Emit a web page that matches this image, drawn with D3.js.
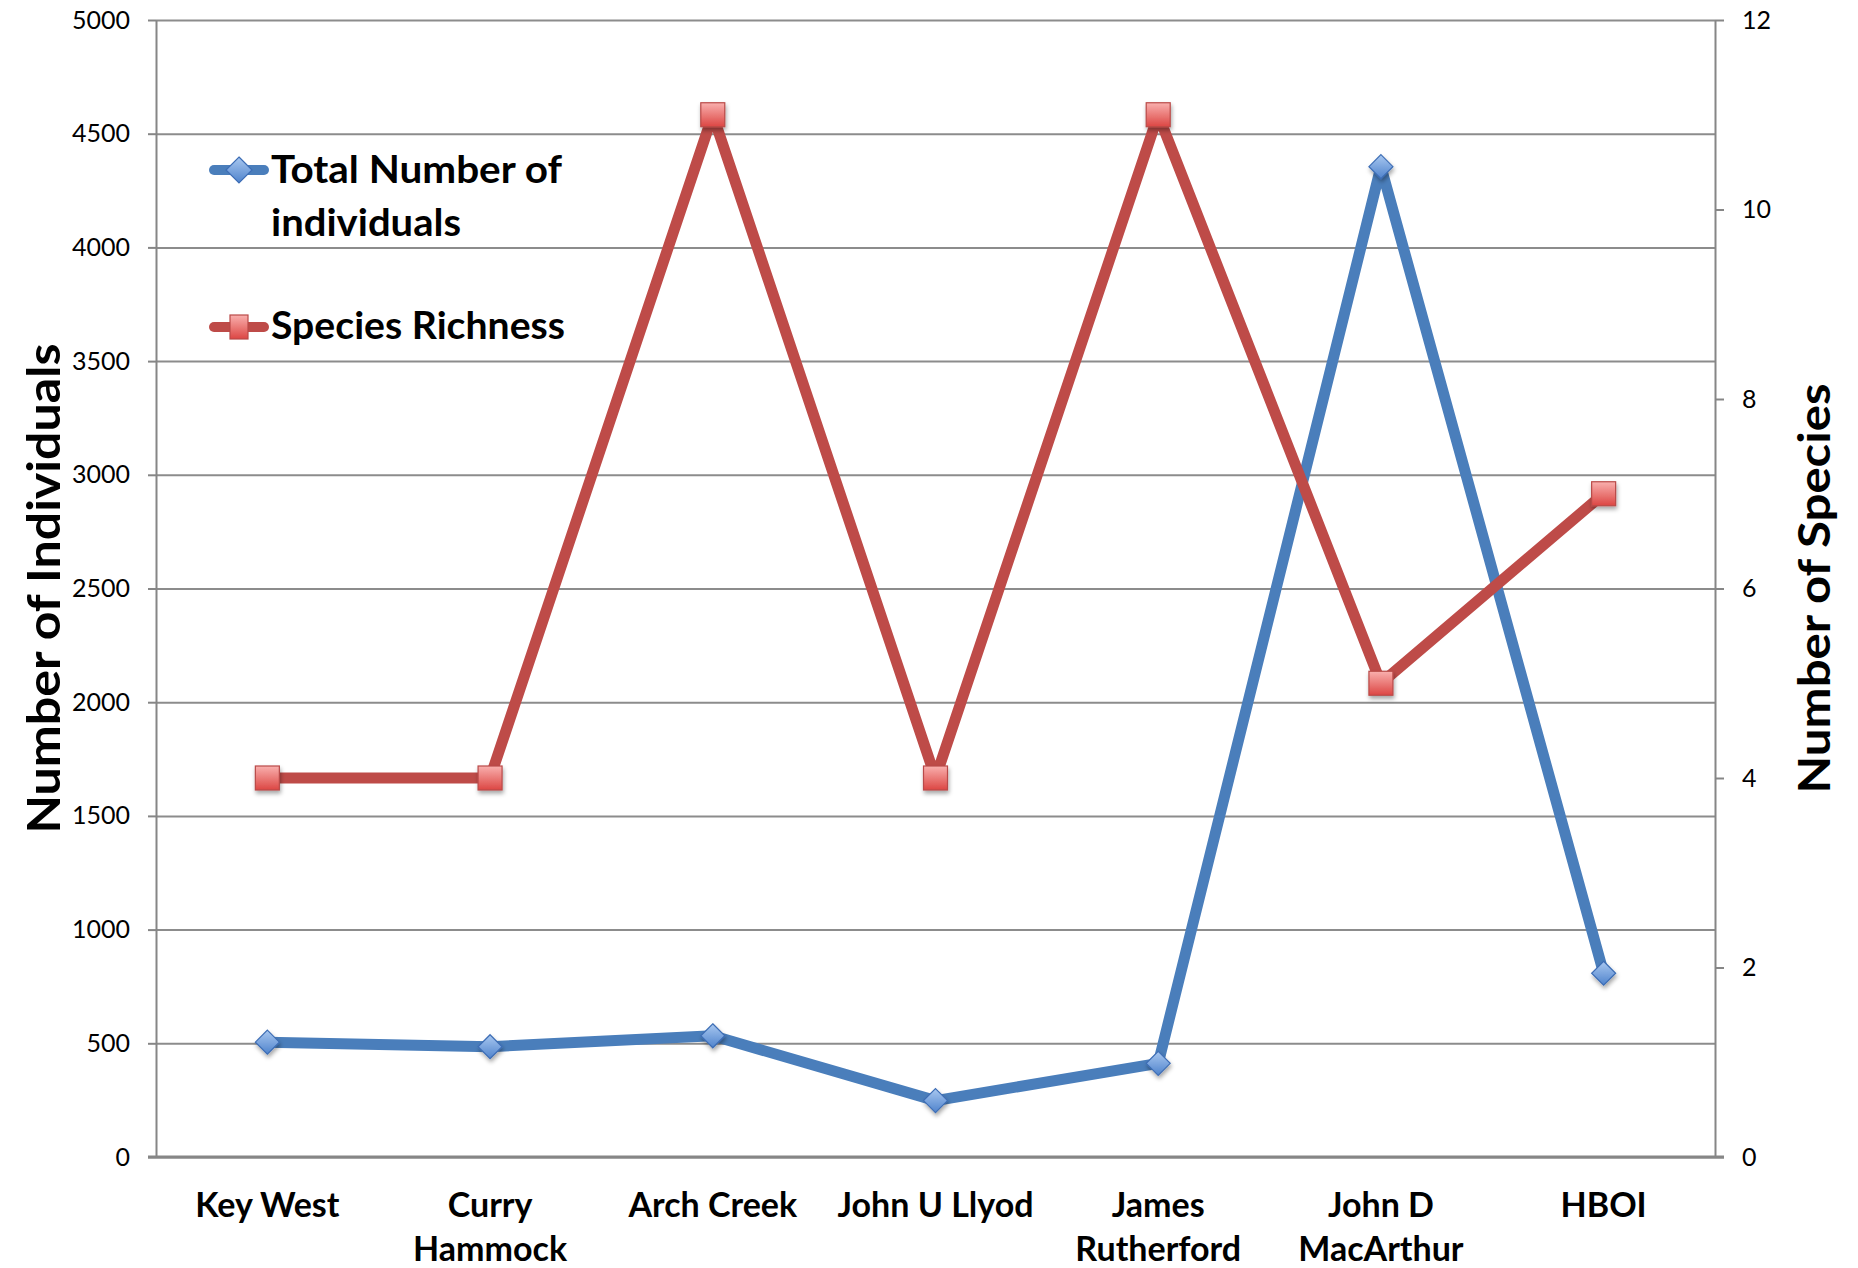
<!doctype html>
<html>
<head>
    <meta charset="utf-8">
    <title>Individuals and species richness by site</title>
    <script src="https://d3js.org/d3.v7.min.js"></script>
    <style>
        body { margin: 0; background: #fff; }
        svg text { font-family: Lato, "Open Sans", sans-serif; fill: #000; }
        .tick line { stroke: #868686; stroke-width: 2; }
        .domain { stroke: #868686; stroke-width: 2; }
        .grid line { stroke: #8c8c8c; stroke-width: 2; }
        .grid .domain { display: none; }
    </style>
</head>
<body>
<script>
// data
const sites = ["Key West", "Curry Hammock", "Arch Creek", "John U Llyod", "James Rutherford", "John D MacArthur", "HBOI"];
const siteLines = [["Key West"], ["Curry", "Hammock"], ["Arch Creek"], ["John U Llyod"], ["James", "Rutherford"], ["John D", "MacArthur"], ["HBOI"]];
const totalIndividuals = [505, 485, 533, 248, 412, 4355, 808];
const speciesRichness = [4, 4, 11, 4, 11, 5, 7];
const leftTicks = [0, 500, 1000, 1500, 2000, 2500, 3000, 3500, 4000, 4500, 5000];
const rightTicks = [0, 2, 4, 6, 8, 10, 12];

const w = 1858, h = 1268;
const plotLeft = 156, plotRight = 1715, plotTop = 20, plotBottom = 1157;

const svg = d3.select("body").append("svg")
    .attr("width", w)
    .attr("height", h);

const defs = svg.append("defs");
const blueGrad = defs.append("linearGradient").attr("id", "blueGrad").attr("x1", 0).attr("y1", 0).attr("x2", 0).attr("y2", 1);
blueGrad.append("stop").attr("offset", "0%").attr("stop-color", "#a9c8f0");
blueGrad.append("stop").attr("offset", "100%").attr("stop-color", "#4f83cc");
const redGrad = defs.append("linearGradient").attr("id", "redGrad").attr("x1", 0).attr("y1", 0).attr("x2", 0).attr("y2", 1);
redGrad.append("stop").attr("offset", "0%").attr("stop-color", "#f9b0ae");
redGrad.append("stop").attr("offset", "100%").attr("stop-color", "#dc4643");
const shadow = defs.append("filter").attr("id", "shadow").attr("x", "-50%").attr("y", "-50%").attr("width", "200%").attr("height", "200%");
shadow.append("feDropShadow").attr("dx", 1).attr("dy", 3).attr("stdDeviation", 2).attr("flood-color", "#000").attr("flood-opacity", 0.35);

const x = d3.scalePoint().domain(sites).range([plotLeft, plotRight]).padding(0.5);
const yLeft = d3.scaleLinear().domain([0, 5000]).range([plotBottom, plotTop]);
const yRight = d3.scaleLinear().domain([0, 12]).range([plotBottom, plotTop]);

// horizontal gridlines
svg.append("g")
    .attr("class", "grid")
    .attr("transform", "translate(" + plotLeft + ",0)")
    .call(d3.axisLeft(yLeft).tickValues(leftTicks).tickSize(-(plotRight - plotLeft)).tickFormat(""));

// left axis
const gl = svg.append("g")
    .attr("transform", "translate(" + plotLeft + ",0)")
    .call(d3.axisLeft(yLeft).tickValues(leftTicks).tickFormat(d3.format("d")).tickSize(8).tickPadding(18).tickSizeOuter(0));
gl.selectAll("text").style("font-size", "25px");

// right axis
const gr = svg.append("g")
    .attr("transform", "translate(" + plotRight + ",0)")
    .call(d3.axisRight(yRight).tickValues(rightTicks).tickFormat(d3.format("d")).tickSize(9).tickPadding(18).tickSizeOuter(0));
gr.selectAll("text").style("font-size", "25px");

// category axis line
svg.append("line")
    .attr("x1", plotLeft - 8).attr("x2", plotRight + 9)
    .attr("y1", plotBottom).attr("y2", plotBottom)
    .attr("stroke", "#868686").attr("stroke-width", 3);

// category labels
const cat = svg.append("g").selectAll("text")
    .data(sites)
    .enter()
    .append("text")
    .attr("text-anchor", "middle")
    .style("font-size", "34px")
    .style("font-weight", "bold");
cat.each(function(d, i) {
    d3.select(this).selectAll("tspan")
        .data(siteLines[i])
        .enter()
        .append("tspan")
        .attr("x", x(d))
        .attr("y", (t, j) => 1217 + j * 44)
        .text(t => t);
});

// lines
const blueLine = d3.line().x((d, i) => x(sites[i])).y(d => yLeft(d));
const redLine = d3.line().x((d, i) => x(sites[i])).y(d => yRight(d));

svg.append("path")
    .datum(totalIndividuals)
    .attr("d", blueLine)
    .attr("fill", "none")
    .attr("stroke", "#4a7ebb")
    .attr("stroke-width", 11)
    .attr("stroke-linejoin", "round");

const diamond = (cx, cy, r) => "M" + cx + "," + (cy - r) + "L" + (cx + r) + "," + cy + "L" + cx + "," + (cy + r) + "L" + (cx - r) + "," + cy + "Z";

svg.append("g").selectAll("path")
    .data(totalIndividuals)
    .enter()
    .append("path")
    .attr("d", (d, i) => diamond(x(sites[i]), yLeft(d), 12))
    .attr("fill", "url(#blueGrad)")
    .attr("stroke", "#3d6db5")
    .attr("stroke-width", 1.2)
    .attr("filter", "url(#shadow)");

svg.append("path")
    .datum(speciesRichness)
    .attr("d", redLine)
    .attr("fill", "none")
    .attr("stroke", "#be4b48")
    .attr("stroke-width", 11)
    .attr("stroke-linejoin", "round");

svg.append("g").selectAll("rect")
    .data(speciesRichness)
    .enter()
    .append("rect")
    .attr("x", (d, i) => x(sites[i]) - 12)
    .attr("y", d => yRight(d) - 12)
    .attr("width", 24)
    .attr("height", 24)
    .attr("fill", "url(#redGrad)")
    .attr("stroke", "#b94a48")
    .attr("stroke-width", 1.2)
    .attr("filter", "url(#shadow)");

// legend
const lg = svg.append("g");
lg.append("line").attr("x1", 214).attr("x2", 264).attr("y1", 170).attr("y2", 170)
    .attr("stroke", "#4a7ebb").attr("stroke-width", 10).attr("stroke-linecap", "round");
lg.append("path").attr("d", diamond(239, 170, 13))
    .attr("fill", "url(#blueGrad)").attr("stroke", "#3d6db5").attr("stroke-width", 1.2);
lg.append("text").attr("x", 271).attr("y", 183)
    .attr("textLength", 291).attr("lengthAdjust", "spacingAndGlyphs")
    .style("font-size", "38px").style("font-weight", "bold")
    .text("Total Number of");
lg.append("text").attr("x", 271).attr("y", 236)
    .attr("textLength", 190).attr("lengthAdjust", "spacingAndGlyphs")
    .style("font-size", "38px").style("font-weight", "bold")
    .text("individuals");

lg.append("line").attr("x1", 214).attr("x2", 264).attr("y1", 327).attr("y2", 327)
    .attr("stroke", "#be4b48").attr("stroke-width", 10).attr("stroke-linecap", "round");
lg.append("rect").attr("x", 230).attr("y", 315).attr("width", 18).attr("height", 24)
    .attr("fill", "url(#redGrad)").attr("stroke", "#b94a48").attr("stroke-width", 1.2);
lg.append("text").attr("x", 271).attr("y", 339)
    .attr("textLength", 294).attr("lengthAdjust", "spacingAndGlyphs")
    .style("font-size", "38px").style("font-weight", "bold")
    .text("Species Richness");

// axis titles
svg.append("text")
    .attr("transform", "translate(60," + ((plotTop + plotBottom) / 2) + ") rotate(-90)")
    .attr("text-anchor", "middle")
    .attr("textLength", 490).attr("lengthAdjust", "spacingAndGlyphs")
    .style("font-size", "46px").style("font-weight", "bold")
    .text("Number of Individuals");

svg.append("text")
    .attr("transform", "translate(1830," + ((plotTop + plotBottom) / 2) + ") rotate(-90)")
    .attr("text-anchor", "middle")
    .attr("textLength", 410).attr("lengthAdjust", "spacingAndGlyphs")
    .style("font-size", "44px").style("font-weight", "bold")
    .text("Number of Species");
</script>
</body>
</html>
